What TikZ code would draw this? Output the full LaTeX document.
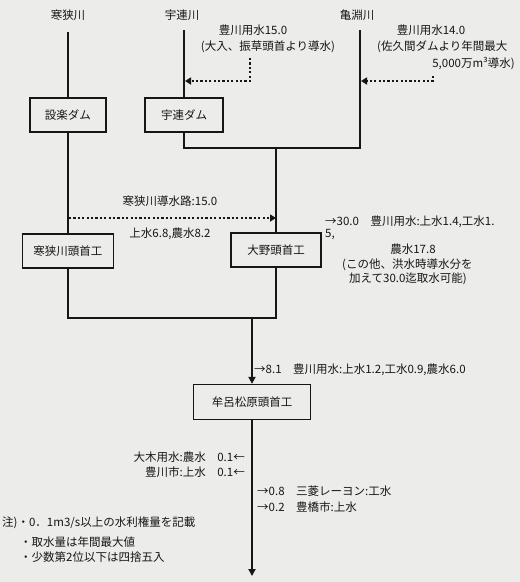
\documentclass[tikz,border=0pt]{standalone}
\usepackage{fontspec}
\usepackage{tikz}
\usetikzlibrary{arrows.meta}
\setmainfont{Noto Sans CJK JP}
\definecolor{paper}{RGB}{236, 236, 234}
\definecolor{ink}{RGB}{22, 22, 22}

\begin{document}
\begin{tikzpicture}[x=1pt, y=-1pt,
    every node/.style={font=\fontsize{11.5}{13}\selectfont, text=ink, inner sep=0pt},
    dam/.style={draw=ink, fill=paper, line width=1.3pt, minimum height=34pt},
    flow/.style={draw=ink, line width=2pt},
    feed/.style={draw=ink, line width=2pt, dash pattern=on 2.2pt off 2.2pt, -{Triangle[length=6pt, width=7pt]}}]
    % Paper and fixed frame
    \fill[paper] (0,0) rectangle (520,582);
    \useasboundingbox (0,0) rectangle (520,582);

    % Rivers
    \node (rkansa) at (68,15) {寒狭川};
    \node (rure) at (182,15) {宇連川};
    \node (rkame) at (357,15) {亀淵川};
    \coordinate (kansatop) at (68,32);
    \coordinate (uretop) at (184,30);
    \coordinate (kametop) at (360,30);

    % Dams and head works
    \node[dam, minimum width=76pt] (shitara) at (68,115) {設楽ダム};
    \node[dam, minimum width=78pt] (ure) at (184,115) {宇連ダム};
    \node[dam, minimum width=91pt] (kansa) at (68,251) {寒狭川頭首工};
    \node[dam, minimum width=90pt] (ono) at (276,250) {大野頭首工};
    \node[dam, minimum width=117pt, minimum height=35pt] (muro) at (252,402) {牟呂松原頭首工};

    % Main channel
    \coordinate (jn1) at (360,148);
    \coordinate (jn2) at (276,318);
    \coordinate (outlet) at (252,576);
    \draw[flow] (kansatop) -- (shitara.north);
    \draw[flow] (shitara.south) -- (kansa.north);
    \draw[flow] (uretop) -- (ure.north);
    \draw[flow] (ure.south) |- (jn1) -- (kametop);
    \draw[flow] (ono.north |- jn1) -- (ono.north);
    \draw[flow] (kansa.south) |- (jn2) -- (ono.south);
    \draw[flow, -{Triangle[length=7pt, width=7pt]}] (muro.north |- jn2) -- (muro.north);
    \draw[flow, -{Triangle[length=7pt, width=7pt]}] (muro.south) -- (outlet);

    % Diversions (dotted)
    \coordinate (ureSrc) at (250,58);
    \coordinate (ureIn) at (185,81);
    \coordinate (kameSrc) at (433,76);
    \coordinate (kameIn) at (361,81);
    \coordinate (kansaOut) at (69,218);
    \coordinate (onoIn) at (276,218);
    \draw[feed] (ureSrc) |- (ureIn);
    \draw[feed] (kameSrc) |- (kameIn);
    \draw[feed] (kansaOut) -- (onoIn);

    % Labels, upper part
    \node (ureq) at (253,30) {豊川用水15.0};
    \node (urenote) at (268,47) {(大入、振草頭首より導水)};
    \node (kameq) at (431,30) {豊川用水14.0};
    \node[anchor=west] (kamenote1) at (377,47) {(佐久間ダムより年間最大};
    \node[anchor=east] (kamenote2) at (515,63) {5,000万m³導水)};
    \node (kansaq) at (170,201) {寒狭川導水路:15.0};
    \node (kansause) at (170,234) {上水6.8,農水8.2};

    % Labels at 大野頭首工
    \node[anchor=west] (onoq1) at (325,222) {→30.0\hspace{1em}豊川用水:上水1.4,工水1.};
    \node[anchor=west] (onoq2) at (325,234) {5,};
    \node (onoq3) at (413,249) {農水17.8};
    \node[anchor=west] (onoq4) at (342,265) {(この他、洪水時導水分を};
    \node[anchor=west] (onoq5) at (349,279) {加えて30.0迄取水可能)};

    % Labels at 牟呂松原頭首工
    \node[anchor=west] (muroq) at (254,370) {→8.1\hspace{1em}豊川用水:上水1.2,工水0.9,農水6.0};
    \node[anchor=east] (ogi) at (245,457) {大木用水:農水\hspace{1em}0.1←};
    \node[anchor=east] (toyokawa) at (245,472) {豊川市:上水\hspace{1em}0.1←};
    \node[anchor=west] (mitsubishi) at (257,491) {→0.8\hspace{1em}三菱レーヨン:工水};
    \node[anchor=west] (toyohashi) at (257,507) {→0.2\hspace{1em}豊橋市:上水};

    % Notes
    \node[anchor=west] (note1) at (2,523) {注)・0．1m3/s以上の水利権量を記載};
    \node[anchor=west] (note2) at (20,542) {・取水量は年間最大値};
    \node[anchor=west] (note3) at (20,557) {・少数第2位以下は四捨五入};
\end{tikzpicture}
\end{document}
